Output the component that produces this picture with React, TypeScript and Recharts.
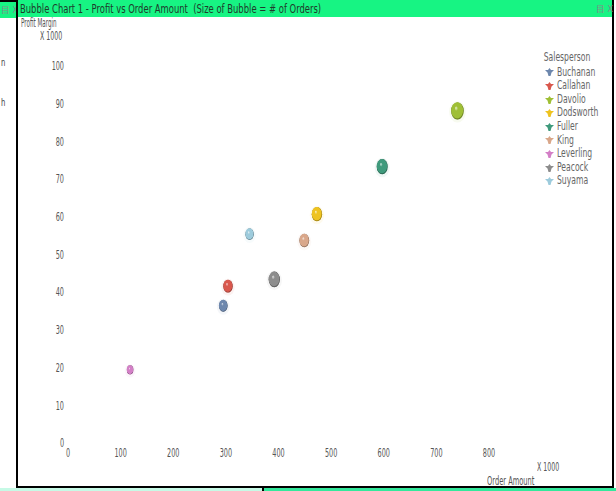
import React from "react";
import { ScatterChart, Scatter, XAxis, YAxis, ZAxis, Legend } from "recharts";

// --- Data (values x 1000) ---
const salespeople = ["Buchanan", "Callahan", "Davolio", "Dodsworth", "Fuller", "King", "Leverling", "Peacock", "Suyama"];
const orderAmount = [295, 304, 740, 473, 597, 449, 118, 392, 345];
const profitMargin = [36.4, 41.6, 88.1, 60.7, 73.3, 53.7, 19.4, 43.4, 55.4];
const orderCount = [19, 22, 40, 27, 30, 24, 11, 32, 18];
const colors = ["#6d87ad", "#d9574c", "#9fbf35", "#eec320", "#3f9a7c", "#d9a78a", "#d37fc6", "#8c8c8c", "#9dcbdc"];

const xTicks = [0, 100, 200, 300, 400, 500, 600, 700, 800];
const yTicks = [0, 10, 20, 30, 40, 50, 60, 70, 80, 90, 100];

const FONT = "'Liberation Sans Narrow', 'DejaVu Sans Condensed', 'Arial Narrow', sans-serif";
const GREEN = "#17f483";

const series = salespeople.map((name, i) => ({
  name,
  color: colors[i],
  data: [{ x: orderAmount[i], y: profitMargin[i], z: orderCount[i] }],
}));

// 3d looking bubble, a bit taller than wide like in the screenshot
const Bubble = (props: any) => {
  const { cx, cy, width, color, gid } = props;
  if (cx == null || cy == null) return null;
  const rx = (width || 6) / 2;
  const ry = rx * 1.38;
  const id = `bub-${gid}`;
  return (
    <g>
      <defs>
        <radialGradient id={id} cx="50%" cy="50%" r="55%" fx="38%" fy="32%">
          <stop offset="0%" stopColor="#ffffff" stopOpacity={0.75} />
          <stop offset="25%" stopColor={color} stopOpacity={0.85} />
          <stop offset="80%" stopColor={color} />
          <stop offset="100%" stopColor="#000000" stopOpacity={0.35} />
        </radialGradient>
      </defs>
      <ellipse cx={cx} cy={cy + 1} rx={rx + 2} ry={ry + 2} fill={color} opacity={0.08} />
      <ellipse cx={cx} cy={cy} rx={rx} ry={ry} fill={color} />
      <ellipse cx={cx} cy={cy} rx={rx} ry={ry} fill={`url(#${id})`} />
    </g>
  );
};

// narrow tick labels (the original uses a condensed font)
const XTick = ({ x, y, payload }: any) => (
  <text
    x={x}
    y={y}
    dy="0.71em"
    textAnchor="middle"
    fontSize={12}
    fill="#555"
    fontFamily={FONT}
    transform={`translate(${x} 0) scale(0.6 1) translate(${-x} 0)`}
  >
    {payload.value}
  </text>
);

const YTick = ({ x, y, payload }: any) => (
  <text
    x={x}
    y={y}
    dy="0.355em"
    textAnchor="end"
    fontSize={12}
    fill="#555"
    fontFamily={FONT}
    transform={`translate(${x} 0) scale(0.6 1) translate(${-x} 0)`}
  >
    {payload.value}
  </text>
);

const LegendMarker = ({ color }: { color: string }) => (
  <svg width={9} height={8} style={{ marginRight: 3, flex: "none" }}>
    <path d="M0,2 L3,2 L4.5,0 L6,2 L9,2 L6.5,4.5 L5.5,8 L3.5,8 L2.5,4.5 Z" fill={color} />
  </svg>
);

const SalesLegend = () => (
  <div style={{ fontFamily: FONT, fontSize: 11.5, color: "#666", lineHeight: "13.6px" }}>
    <div style={{ paddingLeft: 5, marginBottom: 1, transform: "scaleX(0.74)", transformOrigin: "left" }}>Salesperson</div>
    {salespeople.map((name, i) => (
      <div key={name} style={{ display: "flex", alignItems: "center", paddingLeft: 5 }}>
        <LegendMarker color={colors[i]} />
        <span style={{ display: "inline-block", transform: "scaleX(0.74)", transformOrigin: "left" }}>{name}</span>
      </div>
    ))}
  </div>
);

const txt = (extra: React.CSSProperties): React.CSSProperties => ({
  position: "absolute",
  fontFamily: FONT,
  fontSize: 11,
  color: "#555",
  whiteSpace: "nowrap",
  lineHeight: "12px",
  transformOrigin: "left",
  ...extra,
});

export default function App() {
  return (
    <div style={{ position: "absolute", left: 0, top: 0, width: 616, height: 491, background: "#fff", overflow: "hidden" }}>
      {/* left neighbour object */}
      <div style={{ position: "absolute", left: 0, top: 0, width: 17, height: 2, background: "#000" }} />
      <div style={{ position: "absolute", left: 0, top: 2, width: 16, height: 16, background: GREEN }} />
      <div style={txt({ left: 1, top: 4, fontSize: 9, color: "#888" })}>目 X</div>
      <div style={txt({ left: 1, top: 57, color: "#444", transform: "scaleX(0.7)" })}>n</div>
      <div style={txt({ left: 1, top: 97, color: "#444", transform: "scaleX(0.7)" })}>h</div>

      {/* frame */}
      <div style={{ position: "absolute", left: 16, top: 0, width: 2, height: 489, background: "#000" }} />
      <div style={{ position: "absolute", left: 612, top: 0, width: 2, height: 489, background: "#000" }} />
      <div style={{ position: "absolute", left: 16, top: 486, width: 598, height: 2, background: "#000" }} />
      <div style={{ position: "absolute", left: 0, top: 488, width: 262, height: 3, background: "#c6fae6" }} />
      <div style={{ position: "absolute", left: 262, top: 488, width: 2, height: 3, background: "#000" }} />
      <div style={{ position: "absolute", left: 264, top: 488, width: 352, height: 3, background: "#34e89c" }} />

      {/* title bar */}
      <div style={{ position: "absolute", left: 18, top: 0, width: 594, height: 17, background: GREEN }} />
      <div style={txt({ left: 20, top: 1, fontSize: 13, color: "#1f3b2c", lineHeight: "15px", transform: "scaleX(0.72)" })}>
        Bubble Chart 1 - Profit vs Order Amount&nbsp; (Size of Bubble = # of Orders)
      </div>
      <div style={txt({ left: 596, top: 3, fontSize: 9, color: "#888" })}>目 X</div>

      {/* axis titles */}
      <div style={txt({ left: 21, top: 17, fontSize: 12, transform: "scaleX(0.52)" })}>Profit Margin</div>
      <div style={txt({ left: 40, top: 30, fontSize: 12, transform: "scaleX(0.58)" })}>X 1000</div>
      <div style={txt({ left: 537, top: 461, fontSize: 12, transform: "scaleX(0.58)" })}>X 1000</div>
      <div style={txt({ left: 487, top: 475, fontSize: 12, transform: "scaleX(0.62)" })}>Order Amount</div>

      <div style={{ position: "absolute", left: 0, top: 0 }}>
        <ScatterChart width={616} height={491} margin={{ top: 66, right: 127, bottom: 18, left: 8 }}>
          <XAxis
            type="number"
            dataKey="x"
            domain={[0, 800]}
            ticks={xTicks}
            axisLine={false}
            tickLine={false}
            tickSize={0}
            tickMargin={5}
            height={30}
            tick={<XTick />}
          />
          <YAxis
            type="number"
            dataKey="y"
            domain={[0, 100]}
            ticks={yTicks}
            axisLine={false}
            tickLine={false}
            tickSize={0}
            tickMargin={4}
            width={60}
            tick={<YTick />}
          />
          <ZAxis type="number" dataKey="z" domain={[0, 40]} range={[0, 125]} />
          <Legend
            layout="vertical"
            align="center"
            verticalAlign="middle"
            wrapperStyle={{ left: 540, top: 51, width: 72 }}
            content={() => <SalesLegend />}
          />
          {series.map((s, i) => (
            <Scatter
              key={s.name}
              name={s.name}
              data={s.data}
              fill={s.color}
              isAnimationActive={false}
              shape={(p: any) => <Bubble {...p} color={s.color} gid={i} />}
            />
          ))}
        </ScatterChart>
      </div>
    </div>
  );
}
